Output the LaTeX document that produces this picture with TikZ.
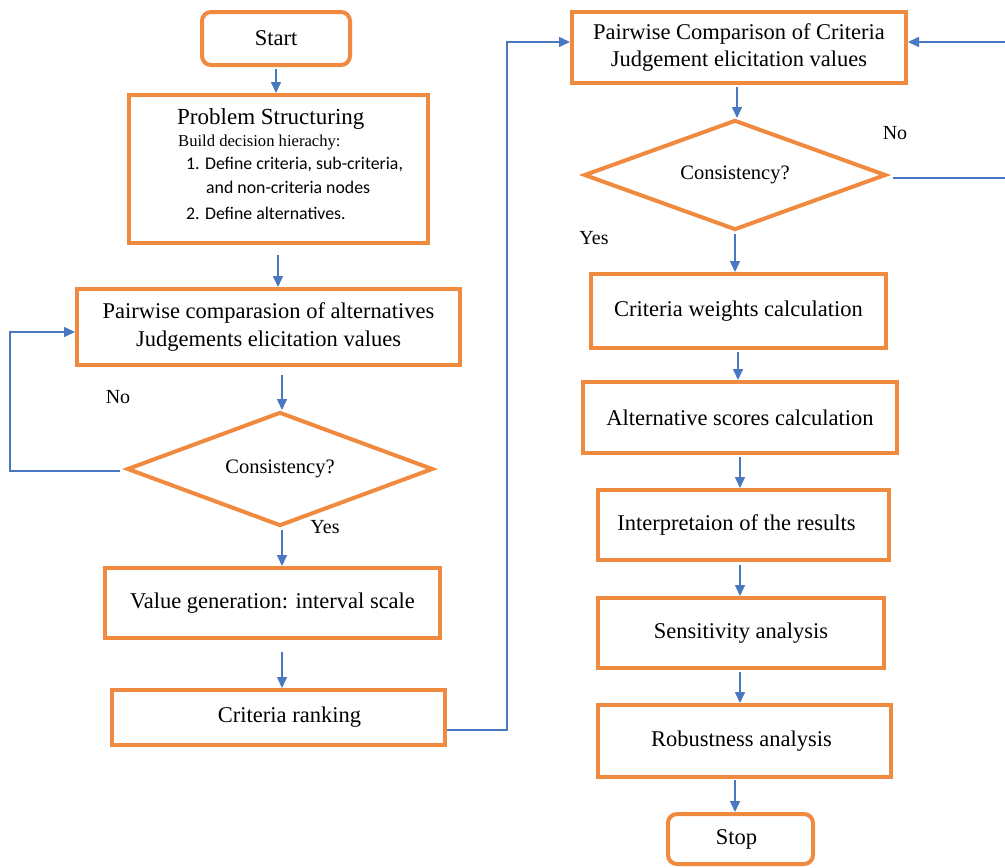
\documentclass[tikz,border=0pt]{standalone}
\usepackage{fontspec}
\setmainfont{Liberation Serif}
\newfontfamily\calib{Carlito}
\usetikzlibrary{shapes.geometric,arrows.meta}
\definecolor{org}{HTML}{F08A3E}
\definecolor{blu}{HTML}{4A78C0}
\begin{document}
\begin{tikzpicture}[x=1pt,y=-1pt,
  box/.style={draw=org,line width=4pt,inner sep=0pt,align=center,font=\fontsize{22.5}{27.5}\selectfont},
  dia/.style={draw=org,line width=4pt,diamond,aspect=2.7,inner sep=0pt,font=\fontsize{20.5}{24}\selectfont},
  conn/.style={draw=blu,line width=1.5pt,-{Triangle[width=10pt,length=11pt]}},
  lbl/.style={font=\fontsize{20}{24}\selectfont,inner sep=0pt}]
\useasboundingbox (0,0) rectangle (1005,868);
% left column
\node[box,rounded corners=9pt,minimum width=148pt,minimum height=53pt] (start) at (276,38.5) {Start};
\node[box,minimum width=299pt,minimum height=148pt] (ps) at (278.5,169) {};
\node[inner sep=0pt,anchor=west,font=\fontsize{23}{27}\selectfont] (pst) at (177,119) {Problem Structuring};
\node[inner sep=0pt,anchor=west,font=\fontsize{16.6}{20}\selectfont] (psb) at (178,143) {Build decision hierachy:};
\node[inner sep=0pt,anchor=west,font=\calib\fontsize{17.8}{21}\selectfont] (ps1) at (186,164) {1. Define criteria, sub-criteria,};
\node[inner sep=0pt,anchor=west,font=\calib\fontsize{17.8}{21}\selectfont] (ps1b) at (206,187) {and non-criteria nodes};
\node[inner sep=0pt,anchor=west,font=\calib\fontsize{17.8}{21}\selectfont] (ps2) at (186,213) {2. Define alternatives.};
\node[box,minimum width=383pt,minimum height=76pt] (pa) at (268.5,327) {Pairwise comparasion of alternatives\\Judgements elicitation values};
\node[dia,minimum width=306pt,minimum height=114pt] (d1) at (280,469) {Consistency?};
\node[box,minimum width=335pt,minimum height=70pt] (vg) at (272.5,603) {Value generation: interval scale};
\node[box,minimum width=333pt,minimum height=55pt] (cr) at (278.5,717.5) {\hspace*{22pt}Criteria ranking};
% right column
\node[box,minimum width=334pt,minimum height=71pt] (pc) at (739,47.5) {Pairwise Comparison of Criteria\\Judgement elicitation values};
\node[dia,minimum width=302pt,minimum height=110pt] (d2) at (735,175) {Consistency?};
\node[box,minimum width=295pt,minimum height=74pt] (cw) at (738.5,311) {Criteria weights calculation};
\node[box,minimum width=314pt,minimum height=71pt] (as) at (740,417.5) {Alternative scores calculation};
\node[box,minimum width=291pt,minimum height=70pt] (ir) at (743.5,525) {\hspace*{-14pt}Interpretaion of the results};
\node[box,minimum width=286pt,minimum height=70pt] (sa) at (741,633) {Sensitivity analysis};
\node[box,minimum width=293pt,minimum height=72pt] (ra) at (744.5,741) {\hspace*{-6pt}Robustness analysis};
\node[box,rounded corners=9pt,minimum width=145pt,minimum height=50pt] (stop) at (740.5,839) {\hspace*{-8pt}Stop};
% labels
\node[lbl] (no1) at (118,397) {No};
\node[lbl] (yes1) at (325,527) {Yes};
\node[lbl] (no2) at (895,133) {No};
\node[lbl] (yes2) at (594,238) {Yes};
% connectors
\coordinate (a1) at (276,69);
\draw[conn] (a1) -- (a1 |- ps.north);
\coordinate (a2) at (278,255);
\draw[conn] (a2) -- (a2 |- pa.north);
\coordinate (a3) at (282,375);
\draw[conn] (a3) -- (a3 |- d1.north);
\coordinate (a4) at (282,530);
\draw[conn] (a4) -- (a4 |- vg.north);
\coordinate (a5) at (282,652);
\draw[conn] (a5) -- (a5 |- cr.north);
\coordinate (l1) at (120,471);
\coordinate (l1c) at (10,471);
\draw[conn] (l1) -- (l1c) -- (l1c |- 0,332) -- (pa.west |- 0,332);
\coordinate (r1) at (447,730);
\coordinate (r1c) at (507,730);
\draw[conn] (r1) -- (r1c) -- (r1c |- 0,42) -- (pc.west |- 0,42);
\coordinate (a6) at (737,87);
\draw[conn] (a6) -- (a6 |- d2.north);
\coordinate (r2) at (893,178);
\coordinate (r2c) at (1008,178);
\draw[draw=blu,line width=1.5pt] (r2) -- (r2c) -- (r2c |- 0,42);
\coordinate (r2d) at (1008,42);
\draw[conn] (r2d) -- (pc.east |- 0,42);
\coordinate (a7) at (735,234);
\draw[conn] (a7) -- (a7 |- cw.north);
\coordinate (a8) at (738,352);
\draw[conn] (a8) -- (a8 |- as.north);
\coordinate (a9) at (740,457);
\draw[conn] (a9) -- (a9 |- ir.north);
\coordinate (a10) at (740,565);
\draw[conn] (a10) -- (a10 |- sa.north);
\coordinate (a11) at (740,672);
\draw[conn] (a11) -- (a11 |- ra.north);
\coordinate (a12) at (735,780);
\draw[conn] (a12) -- (a12 |- stop.north);
\end{tikzpicture}
\end{document}
